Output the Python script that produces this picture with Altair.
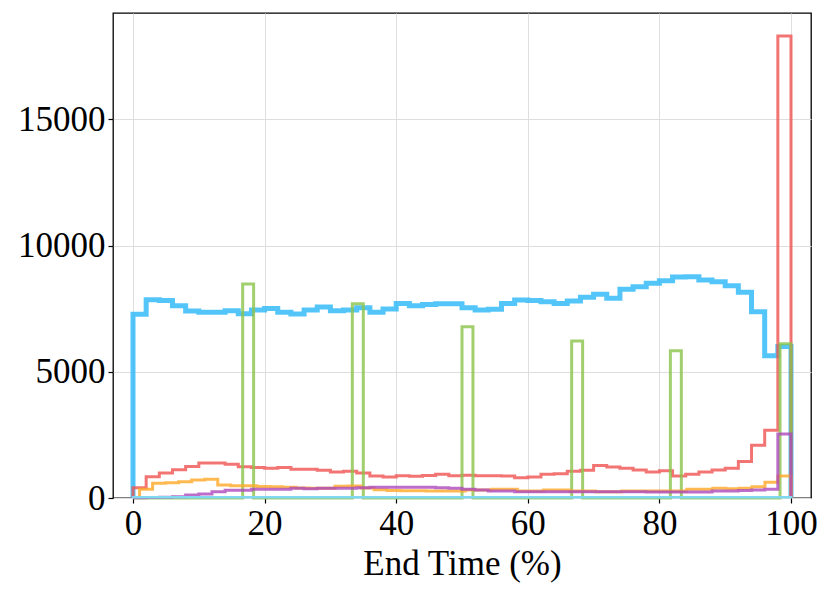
import altair as alt
import pandas as pd

# ---- data ----
n50_edges = [2 * k for k in range(51)]                      # 50 bins, 0..100
orange_edges = [1 + k * 99 / 50 for k in range(51)]          # orange starts at ~1
green_edges = [k * 100 / 60 for k in range(61)]              # 60 bins, 0..100

blue = [7280, 7850, 7820, 7620, 7410, 7360, 7360, 7420, 7300, 7450,
        7510, 7360, 7290, 7450, 7570, 7420, 7450, 7540, 7360, 7490,
        7710, 7620, 7670, 7700, 7700, 7540, 7450, 7475, 7710, 7845,
        7820, 7780, 7710, 7805, 7950, 8070, 7910, 8270, 8370, 8505,
        8610, 8755, 8770, 8640, 8570, 8410, 8150, 7380, 5640, 6000]

red = [410, 845, 990, 1120, 1250, 1385, 1385, 1340, 1241, 1205,
       1175, 1205, 1136, 1136, 1100, 1030, 1060, 990, 875, 830,
       885, 860, 890, 945, 880, 900, 885, 885, 870, 806,
       832, 938, 960, 1060, 1100, 1290, 1230, 1180, 1109, 1030,
       1083, 870, 938, 1035, 1109, 1175, 1445, 2087, 2681, 18300]

green = [0] * 60
green[10] = 8480
green[20] = 7700
green[30] = 6780
green[40] = 6220
green[49] = 5830
green[59] = 6110

orange = [343, 581, 600, 647, 713, 740, 515, 489, 489, 460,
          449, 423, 400, 383, 383, 470, 475, 400, 330, 300,
          290, 290, 280, 280, 277, 317, 317, 343, 343, 277,
          277, 317, 317, 277, 277, 251, 251, 277, 277, 277,
          277, 277, 343, 343, 383, 370, 383, 449, 621, 872]

purple = [5, 15, 30, 53, 119, 158, 251, 304, 304, 343,
          343, 343, 383, 370, 383, 383, 383, 410, 423, 423,
          423, 423, 423, 410, 383, 343, 317, 277, 277, 251,
          251, 251, 251, 251, 251, 251, 251, 251, 251, 240,
          240, 240, 240, 240, 277, 277, 300, 317, 343, 2540]

cyan = [25] * 50

series = [
    ("blue", n50_edges, blue, "#29B6F6", 5, 0.8),
    ("red", n50_edges, red, "#EF5350", 3, 0.8),
    ("green", green_edges, green, "#8BC34A", 3, 0.8),
    ("orange", orange_edges, orange, "#FFA726", 3, 0.8),
    ("purple", n50_edges, purple, "#AB47BC", 3, 0.8),
    ("cyan", n50_edges, cyan, "#80D8F0", 2.5, 1.0),
]


def step_table(name, edges, counts):
    rows = [{"s": name, "o": 0, "x": edges[0], "y": 0}]
    for i, c in enumerate(counts):
        rows.append({"s": name, "o": i + 1, "x": edges[i], "y": c})
    rows.append({"s": name, "o": len(counts) + 1, "x": edges[-1], "y": counts[-1]})
    rows.append({"s": name, "o": len(counts) + 2, "x": edges[-1], "y": 0})
    return pd.DataFrame(rows)


FONT = "Liberation Serif"

x_enc = alt.X(
    "x:Q",
    scale=alt.Scale(domain=[-3.04, 103.04], nice=False, zero=False),
    axis=alt.Axis(values=[0, 20, 40, 60, 80, 100], title="End Time (%)",
                  format="d"),
)
y_enc = alt.Y(
    "y:Q",
    scale=alt.Scale(domain=[0, 19215], nice=False),
    axis=alt.Axis(values=[0, 5000, 10000, 15000], title=None, format="d"),
)

layers = []
for name, edges, counts, color, width, op in series:
    df = step_table(name, edges, counts)
    layers.append(
        alt.Chart(df)
        .mark_line(interpolate="step-after", color=color, strokeWidth=width,
                   opacity=op, strokeJoin="miter", strokeCap="butt")
        .encode(x=x_enc, y=y_enc, order="o:Q")
    )

chart = (
    alt.layer(*layers)
    .properties(
        width=698,
        height=485,
        autosize=alt.AutoSizeParams(type="none"),
        padding={"left": 105, "top": 5, "right": 10, "bottom": 90},
    )
    .configure_view(stroke="black", strokeWidth=1.3)
    .configure_axis(
        grid=True,
        gridColor="#dedede",
        gridWidth=1,
        domain=False,
        tickColor="black",
        tickSize=5,
        tickWidth=1.2,
        labelFont=FONT,
        labelFontSize=35,
        labelColor="black",
        labelPadding=3,
        titleFont=FONT,
        titleFontSize=35,
        titleFontWeight="normal",
        titleColor="black",
        titlePadding=5,
    )
)

chart.save("out.html", embed_options={"renderer": "svg", "actions": False})
